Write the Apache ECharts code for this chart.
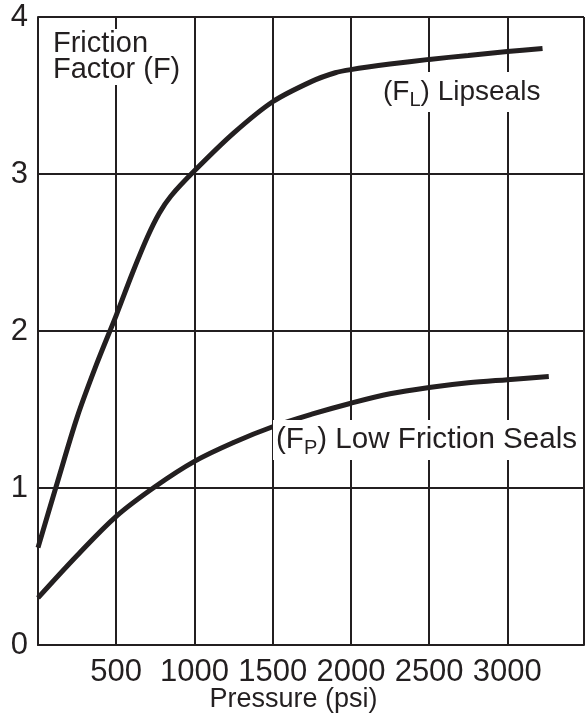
<!DOCTYPE html>
<html>
<head>
<meta charset="utf-8">
<style>
  html, body { margin: 0; padding: 0; background: #fff; }
  #chart { width: 587px; height: 721px; }
</style>
<script src="https://cdn.jsdelivr.net/npm/echarts@6/dist/echarts.min.js"></script>
</head>
<body>
<div id="chart"></div>
<script>
// Pressure (psi) sample points and friction factor for each seal type
const lipPressure = [0, 125, 250, 375, 500, 600, 700, 775, 850, 1000, 1250, 1500, 1750, 1900, 2000, 2250, 2500, 2750, 3000, 3225];
const lipFactor   = [0.62, 1.04, 1.45, 1.79, 2.10, 2.36, 2.60, 2.75, 2.86, 3.02, 3.26, 3.46, 3.59, 3.645, 3.665, 3.70, 3.73, 3.755, 3.78, 3.80];

const lowPressure = [0, 250, 500, 750, 1000, 1250, 1500, 1750, 2000, 2250, 2500, 2750, 3000, 3265];
const lowFactor   = [0.30, 0.57, 0.82, 1.01, 1.17, 1.29, 1.39, 1.47, 1.54, 1.60, 1.64, 1.67, 1.69, 1.71];

const yTicks = [0, 1, 2, 3, 4];
const xTicks = [500, 1000, 1500, 2000, 2500, 3000];

const ink = '#231f20';
const font = 'Liberation Sans, Arial, Helvetica, sans-serif';

const pairs = (xs, ys) => xs.map((x, i) => [x, ys[i]]);

const chart = echarts.init(document.getElementById('chart'), null, { renderer: 'canvas' });

const subStyle = { fontFamily: font, fontSize: 20, fill: ink, padding: [16, 0, 0, 0] };

chart.setOption({
  animation: false,
  backgroundColor: '#fff',
  textStyle: { fontFamily: font, color: ink },
  grid: { left: 38, right: 0, top: 17, bottom: 76, containLabel: false },
  title: {
    text: 'Pressure (psi)',
    left: 'center',
    bottom: 3,
    textStyle: { fontFamily: font, fontSize: 27, fontWeight: 'normal', color: ink }
  },
  xAxis: {
    type: 'value',
    min: 0,
    max: 3490,
    interval: 500,
    axisLine: { show: true, lineStyle: { color: ink, width: 2 } },
    axisTick: { show: false },
    splitLine: { show: true, lineStyle: { color: ink, width: 2 } },
    axisLabel: {
      fontFamily: font,
      fontSize: 31,
      color: ink,
      margin: 12,
      formatter: v => (xTicks.indexOf(v) >= 0 ? String(v) : '')
    }
  },
  yAxis: {
    type: 'value',
    min: 0,
    max: 4,
    interval: 1,
    axisLine: { show: true, lineStyle: { color: ink, width: 2 } },
    axisTick: { show: false },
    splitLine: { show: true, lineStyle: { color: ink, width: 2 } },
    axisLabel: {
      fontFamily: font,
      fontSize: 31,
      color: ink,
      margin: 10,
      formatter: v => (yTicks.indexOf(v) >= 0 ? String(v) : '')
    }
  },
  series: [
    {
      name: 'Lipseals',
      type: 'line',
      data: pairs(lipPressure, lipFactor),
      smooth: 0.3,
      symbol: 'none',
      lineStyle: { color: ink, width: 5, cap: 'butt' },
      z: 5
    },
    {
      name: 'Low Friction Seals',
      type: 'line',
      data: pairs(lowPressure, lowFactor),
      smooth: 0.35,
      symbol: 'none',
      lineStyle: { color: ink, width: 5, cap: 'butt' },
      z: 5
    }
  ],
  graphic: [
    {
      type: 'text',
      left: 50,
      top: 29,
      z: 10,
      style: {
        text: 'Friction\nFactor (F)',
        fontFamily: font,
        fontSize: 29,
        lineHeight: 26,
        fill: ink,
        backgroundColor: '#fff',
        padding: [2, 4, 2, 3]
      }
    },
    {
      type: 'text',
      left: 380,
      top: 72,
      z: 10,
      style: {
        text: '(F{sub|L}) Lipseals',
        fontFamily: font,
        fontSize: 28,
        fill: ink,
        backgroundColor: '#fff',
        padding: [2, 3, 2, 3],
        rich: { sub: subStyle }
      }
    },
    {
      type: 'text',
      left: 273,
      top: 420,
      z: 10,
      style: {
        text: '(F{sub|P}) Low Friction Seals',
        fontFamily: font,
        fontSize: 29.6,
        fill: ink,
        backgroundColor: '#fff',
        padding: [2, 3, 2, 3],
        rich: { sub: subStyle }
      }
    }
  ]
});
</script>
</body>
</html>
